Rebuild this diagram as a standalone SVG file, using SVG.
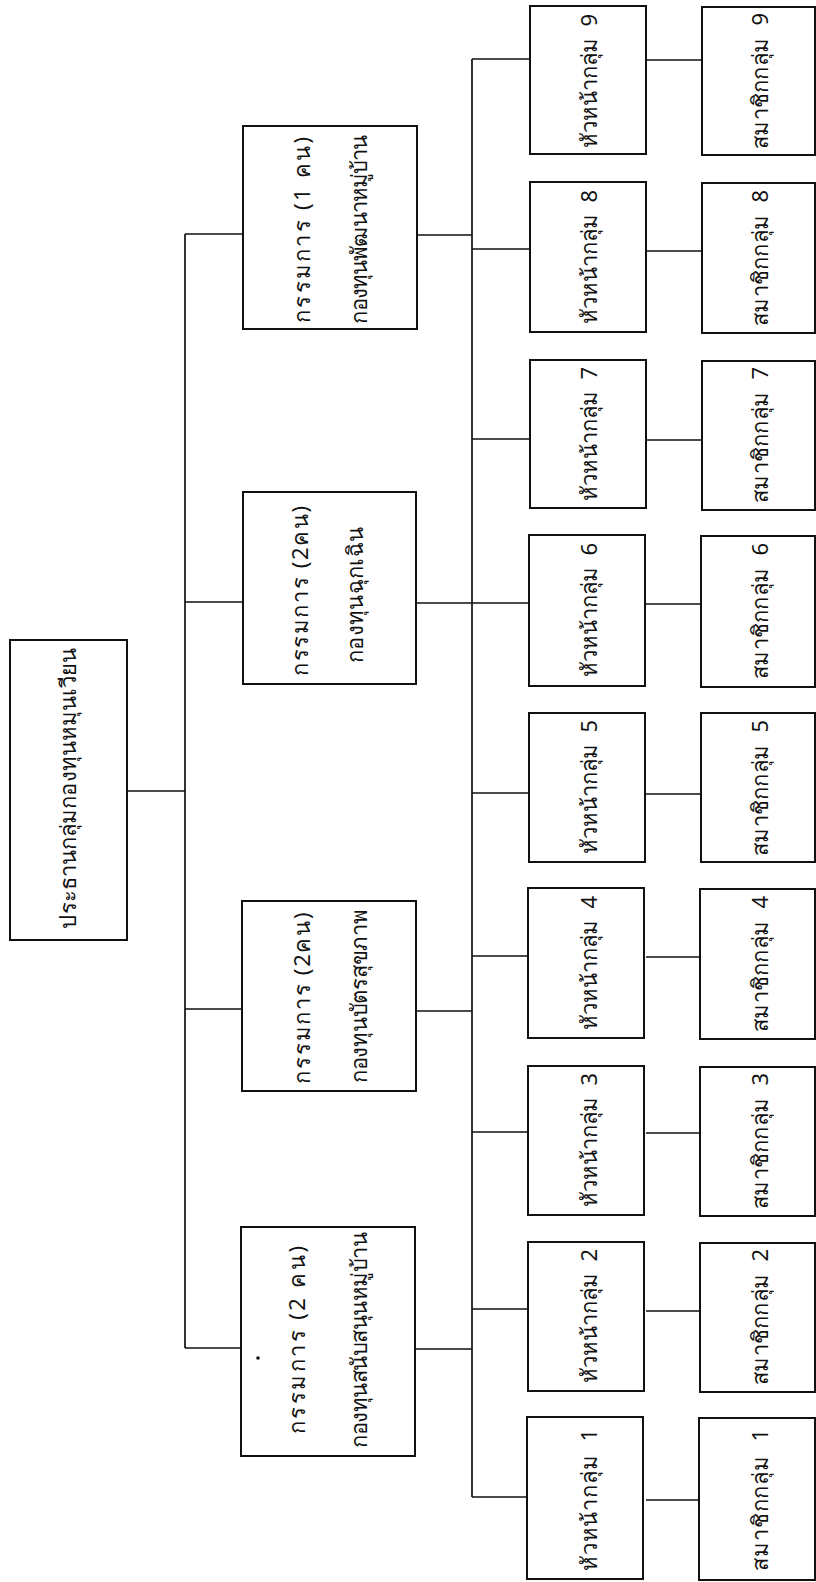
<svg xmlns="http://www.w3.org/2000/svg" width="816" height="1582" viewBox="0 0 816 1582">
<style>
.box{fill:#fff;stroke:#111;stroke-width:2}
.ln{stroke:#111;stroke-width:1.7;fill:none}
.t{font-family:'Noto Sans','DejaVu Sans',sans-serif;font-size:22px;fill:#111;text-anchor:middle}
</style>
<rect width="816" height="1582" fill="#fff"/>
<g id="connectors" class="ln">
<path d="M127 791H185M185 234V1348M185 234H243M185 602H243M185 1009H243M185 1348H243"/>
<path d="M417 235H472M417 603H472M416 1011H472M415 1349H472M472 59V1497"/>
<path d="M472 59H530M472 249H530M472 439H530M472 603H530M472 793H530M472 956H530M472 1132H530M472 1309H530M472 1497H530"/>
<path d="M646 60H701M646 251H701M646 440H701M646 604H701M646 794H701M646 957H701M646 1133H701M646 1311H701M646 1500H701"/>
</g>
<g id="root"><rect class="box" x="10" y="640" width="117" height="300"/><text class="t" transform="translate(76,788) rotate(-90)" textLength="281" lengthAdjust="spacing">ประธานกลุ่มกองทุนหมุนเวียน</text></g>
<g id="c1"><rect class="box" x="243" y="126" width="174" height="203"/><text class="t" transform="translate(310,230) rotate(-90)" textLength="186" lengthAdjust="spacing">กรรมการ (1 คน)</text><text class="t" transform="translate(367,229) rotate(-90)" textLength="189" lengthAdjust="spacing">กองทุนพัฒนาหมู่บ้าน</text></g>
<g id="c2"><rect class="box" x="243" y="492" width="173" height="192"/><text class="t" transform="translate(308,591) rotate(-90)" textLength="170" lengthAdjust="spacing">กรรมการ (2คน)</text><text class="t" transform="translate(363,595) rotate(-90)" textLength="136" lengthAdjust="spacing">กองทุนฉุกเฉิน</text></g>
<g id="c3"><rect class="box" x="242" y="901" width="174" height="190"/><text class="t" transform="translate(310,998) rotate(-90)" textLength="171" lengthAdjust="spacing">กรรมการ (2คน)</text><text class="t" transform="translate(367,996) rotate(-90)" textLength="174" lengthAdjust="spacing">กองทุนบัตรสุขภาพ</text></g>
<g id="c4"><rect class="box" x="241" y="1227" width="174" height="229"/><text class="t" transform="translate(305,1340) rotate(-90)" textLength="188" lengthAdjust="spacing">กรรมการ (2 คน)</text><text class="t" transform="translate(367,1340) rotate(-90)" textLength="216" lengthAdjust="spacing">กองทุนสนับสนุนหมู่บ้าน</text><circle cx="258" cy="1358" r="1.8" fill="#111"/></g>
<g id="h9"><rect class="box" x="530" y="6" width="116" height="148"/><text class="t" transform="translate(597,81) rotate(-90)" textLength="134" lengthAdjust="spacing">หัวหน้ากลุ่ม&#160; 9</text></g>
<g id="h8"><rect class="box" x="530" y="182" width="116" height="150"/><text class="t" transform="translate(597,257) rotate(-90)" textLength="134" lengthAdjust="spacing">หัวหน้ากลุ่ม&#160; 8</text></g>
<g id="h7"><rect class="box" x="530" y="360" width="116" height="148"/><text class="t" transform="translate(597,434) rotate(-90)" textLength="134" lengthAdjust="spacing">หัวหน้ากลุ่ม&#160; 7</text></g>
<g id="h6"><rect class="box" x="529" y="535" width="116" height="151"/><text class="t" transform="translate(597,610) rotate(-90)" textLength="134" lengthAdjust="spacing">หัวหน้ากลุ่ม&#160; 6</text></g>
<g id="h5"><rect class="box" x="529" y="713" width="116" height="149"/><text class="t" transform="translate(597,787) rotate(-90)" textLength="134" lengthAdjust="spacing">หัวหน้ากลุ่ม&#160; 5</text></g>
<g id="h4"><rect class="box" x="528" y="888" width="116" height="150"/><text class="t" transform="translate(597,963) rotate(-90)" textLength="134" lengthAdjust="spacing">หัวหน้ากลุ่ม&#160; 4</text></g>
<g id="h3"><rect class="box" x="528" y="1066" width="116" height="149"/><text class="t" transform="translate(597,1140) rotate(-90)" textLength="134" lengthAdjust="spacing">หัวหน้ากลุ่ม&#160; 3</text></g>
<g id="h2"><rect class="box" x="528" y="1242" width="116" height="149"/><text class="t" transform="translate(597,1316) rotate(-90)" textLength="134" lengthAdjust="spacing">หัวหน้ากลุ่ม&#160; 2</text></g>
<g id="h1"><rect class="box" x="527" y="1417" width="116" height="162"/><text class="t" transform="translate(597,1500) rotate(-90)" textLength="142" lengthAdjust="spacing">หัวหน้ากลุ่ม&#160; 1</text></g>
<g id="m9"><rect class="box" x="702" y="7" width="113" height="148"/><text class="t" transform="translate(768,81) rotate(-90)" textLength="136" lengthAdjust="spacing">สมาชิกกลุ่ม&#160; 9</text></g>
<g id="m8"><rect class="box" x="702" y="183" width="113" height="150"/><text class="t" transform="translate(768,258) rotate(-90)" textLength="136" lengthAdjust="spacing">สมาชิกกลุ่ม&#160; 8</text></g>
<g id="m7"><rect class="box" x="702" y="361" width="113" height="149"/><text class="t" transform="translate(768,435) rotate(-90)" textLength="136" lengthAdjust="spacing">สมาชิกกลุ่ม&#160; 7</text></g>
<g id="m6"><rect class="box" x="701" y="536" width="114" height="151"/><text class="t" transform="translate(768,611) rotate(-90)" textLength="136" lengthAdjust="spacing">สมาชิกกลุ่ม&#160; 6</text></g>
<g id="m5"><rect class="box" x="701" y="713" width="114" height="149"/><text class="t" transform="translate(768,788) rotate(-90)" textLength="136" lengthAdjust="spacing">สมาชิกกลุ่ม&#160; 5</text></g>
<g id="m4"><rect class="box" x="700" y="889" width="115" height="150"/><text class="t" transform="translate(768,964) rotate(-90)" textLength="136" lengthAdjust="spacing">สมาชิกกลุ่ม&#160; 4</text></g>
<g id="m3"><rect class="box" x="700" y="1067" width="115" height="149"/><text class="t" transform="translate(768,1141) rotate(-90)" textLength="136" lengthAdjust="spacing">สมาชิกกลุ่ม&#160; 3</text></g>
<g id="m2"><rect class="box" x="700" y="1243" width="115" height="149"/><text class="t" transform="translate(768,1317) rotate(-90)" textLength="136" lengthAdjust="spacing">สมาชิกกลุ่ม&#160; 2</text></g>
<g id="m1"><rect class="box" x="699" y="1418" width="116" height="162"/><text class="t" transform="translate(768,1500) rotate(-90)" textLength="142" lengthAdjust="spacing">สมาชิกกลุ่ม&#160; 1</text></g>
</svg>
